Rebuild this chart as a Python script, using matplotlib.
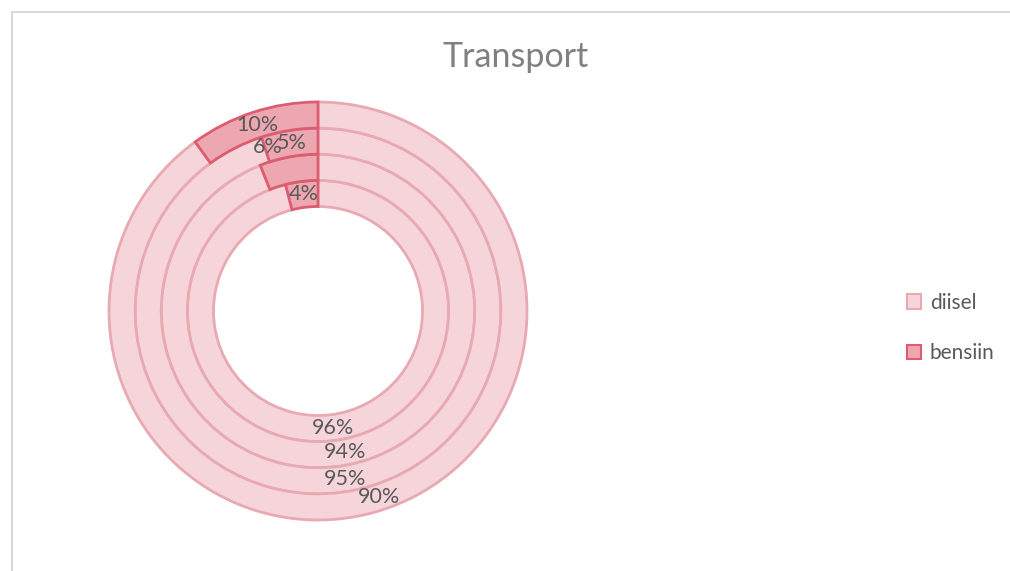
import numpy as np
import matplotlib
matplotlib.use("Agg")
import matplotlib.pyplot as plt
from matplotlib.lines import Line2D
from matplotlib.patches import Patch

plt.rcParams["font.family"] = ["Lato", "DejaVu Sans"]

# rings from inner to outer
rings = ["ring1", "ring2", "ring3", "ring4"]
diisel = [96, 94, 95, 90]
bensiin = [4, 6, 5, 10]
series = ["diisel", "bensiin"]

face = {"diisel": "#F6D5DA", "bensiin": "#EDA7B1"}
edge = {"diisel": "#E8A9B2", "bensiin": "#DC5D70"}
TXT = "#595959"

W, H = 1010, 571
fig = plt.figure(figsize=(W / 100, H / 100), dpi=100)

# pie area: center (318, 311) px from top-left, outer radius 209 px
cx, cy, R = 318, H - 311, 209
ax = fig.add_axes([(cx - R) / W, (cy - R) / H, 2 * R / W, 2 * R / H])

width = 0.125
for i, (d, b) in enumerate(zip(diisel, bensiin)):
    r = 0.5 + width * (i + 1)
    wedges, _ = ax.pie([d, b], radius=r, startangle=90, counterclock=False,
                       colors=[face["diisel"], face["bensiin"]],
                       wedgeprops=dict(width=width, linewidth=2.0))
    wedges[0].set_edgecolor(edge["diisel"])
    wedges[1].set_edgecolor(edge["bensiin"])
    wedges[1].set_zorder(3)

    # data labels at middle of slice
    rm = r - width / 2
    cum = 0
    for j, v in enumerate([d, b]):
        mid = 90 - 360 * (cum + v / 2) / 100
        cum += v
        x, y = rm * np.cos(np.radians(mid)), rm * np.sin(np.radians(mid))
        if j == 1 and i == 1:  # 6% label moved by Excel
            x, y = x - 0.11, y + 0.11
        ax.text(x, y, f"{v}%", ha="center", va="center", fontsize=15.5,
                color=TXT, zorder=5)

ax.set_xlim(-1, 1)
ax.set_ylim(-1, 1)
ax.set_aspect("equal")
ax.axis("off")

fig.text(516 / W, 1 - 57 / H, "Transport", ha="center", va="center",
         fontsize=24.5, color="#808080")

handles = [Patch(facecolor=face[s], edgecolor=edge[s], linewidth=1.5) for s in series]
fig.legend(handles, series, loc="center left", bbox_to_anchor=(888 / W, 1 - 328 / H),
           frameon=False, fontsize=15, labelcolor=TXT, handlelength=0.7,
           handleheight=0.7, handletextpad=0.4, labelspacing=1.45)

# chart area border (only left and top visible)
fig.add_artist(Line2D([11.5 / W, 11.5 / W], [0, 1 - 11.5 / H], transform=fig.transFigure,
                      color="#D9D9D9", linewidth=1.5))
fig.add_artist(Line2D([11.5 / W, 1], [1 - 11.5 / H, 1 - 11.5 / H], transform=fig.transFigure,
                      color="#D9D9D9", linewidth=1.5))

fig.savefig("out.png", dpi=100)
